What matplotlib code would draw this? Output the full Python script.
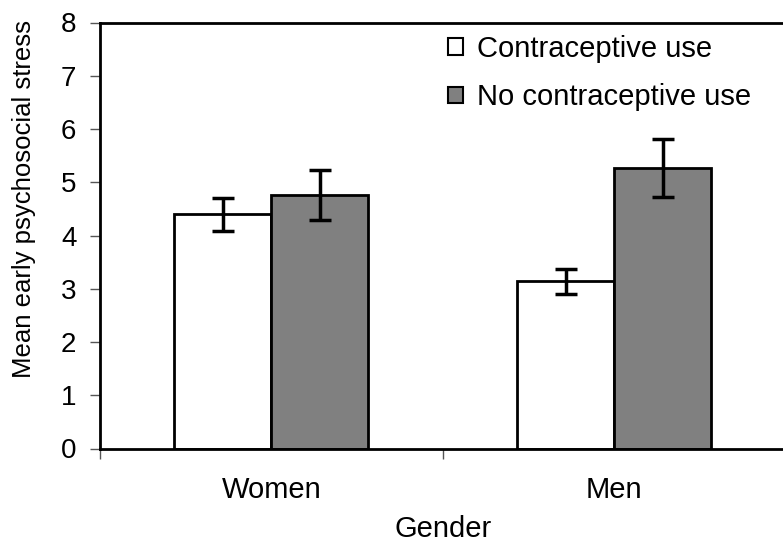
import matplotlib
matplotlib.use("Agg")
import matplotlib.pyplot as plt
import numpy as np

# data
groups = ["Women", "Men"]
series = ["Contraceptive use", "No contraceptive use"]
contra_mean = [4.40, 3.14]
contra_err = [0.31, 0.24]
nocontra_mean = [4.76, 5.27]
nocontra_err = [0.47, 0.55]

plt.rcParams['font.family'] = ['Liberation Sans', 'DejaVu Sans']
fs = 21

fig = plt.figure(figsize=(7.83, 5.46), dpi=100)
ax = fig.add_axes([100 / 783, 97.5 / 546, 685.4 / 783, 426 / 546])

x = np.arange(len(groups))
w = 0.283
ekw = dict(elinewidth=2.5, capthick=2.5)
ax.bar(x - w / 2, contra_mean, w, yerr=contra_err, color='white', edgecolor='black',
       linewidth=2, capsize=8, error_kw=ekw, label=series[0])
ax.bar(x + w / 2, nocontra_mean, w, yerr=nocontra_err, color='#808080', edgecolor='black',
       linewidth=2, capsize=8, error_kw=ekw, label=series[1])

ax.set_xlim(-0.5, 1.5)
ax.set_ylim(0, 8)
ax.set_yticks(range(0, 9))
ax.set_xticks(x)
ax.set_xticklabels(groups, fontsize=fs)
ax.set_xticks([-0.5, 0.5, 1.5], minor=True)
ax.tick_params(axis='x', which='major', length=0, pad=20)
ax.tick_params(axis='x', which='minor', length=7, width=1, direction='out', color='#555555')
ax.tick_params(axis='y', length=7, width=1, direction='out', labelsize=20, pad=10,
               color='#555555')

for s in ax.spines.values():
    s.set_linewidth(2)
ax.spines['right'].set_visible(False)

ax.set_xlabel("Gender", fontsize=fs, labelpad=8)
ax.set_ylabel("Mean early psychosocial stress", fontsize=18.5)
ax.yaxis.set_label_coords(-0.093, 0.586)

leg = ax.legend(loc='upper left', bbox_to_anchor=(448 / 783, 1 - 35 / 546),
                bbox_transform=fig.transFigure, frameon=False, fontsize=fs,
                handlelength=0.5, handleheight=0.5, handletextpad=0.5,
                labelspacing=0.7, borderpad=0, borderaxespad=0)
for h in leg.legend_handles:
    h.set_linewidth(1.5)

fig.savefig("out.png", dpi=100)
